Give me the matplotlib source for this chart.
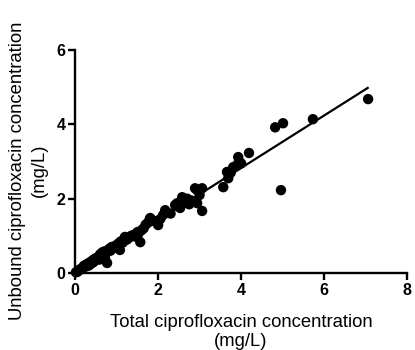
#!/usr/bin/env python3

import matplotlib
matplotlib.use('Agg')
import matplotlib.pyplot as plt

# total vs unbound ciprofloxacin (mg/L)
total = [0.02, 0.05, 0.08, 0.10, 0.12, 0.15, 0.18, 0.20, 0.22, 0.25, 0.28, 0.30,
         0.33, 0.35, 0.38, 0.40, 0.43, 0.45, 0.48, 0.50, 0.55, 0.58, 0.60, 0.62,
         0.65, 0.68, 0.70, 0.72, 0.75, 0.77, 0.80, 0.82, 0.85, 0.88, 0.90, 0.95,
         1.00, 1.02, 1.05, 1.08, 1.10, 1.15, 1.20, 1.25, 1.30, 1.35, 1.40, 1.45,
         1.50, 1.52, 1.57, 1.60, 1.65, 1.70, 1.75, 1.80, 1.81, 1.85, 1.90, 2.00,
         2.05, 2.12, 2.17, 2.17, 2.30, 2.41, 2.46, 2.53, 2.58, 2.65, 2.70, 2.75,
         2.80, 2.89, 2.94, 2.94, 3.00, 3.06, 3.06, 3.57, 3.66, 3.69, 3.75, 3.81,
         3.90, 3.93, 3.95, 4.00, 4.19, 4.82, 5.01, 5.73, 7.06, 4.96]
unbound = [0.02, 0.03, 0.06, 0.08, 0.10, 0.10, 0.14, 0.16, 0.20, 0.17, 0.22, 0.25,
           0.20, 0.28, 0.30, 0.26, 0.35, 0.30, 0.38, 0.40, 0.42, 0.36, 0.50, 0.45,
           0.55, 0.48, 0.58, 0.42, 0.55, 0.27, 0.60, 0.65, 0.60, 0.70, 0.66, 0.72,
           0.75, 0.68, 0.80, 0.62, 0.85, 0.82, 0.97, 0.90, 0.95, 1.00, 1.02, 0.98,
           1.10, 1.05, 0.83, 1.15, 1.20, 1.30, 1.35, 1.45, 1.48, 1.42, 1.40, 1.29,
           1.45, 1.56, 1.64, 1.69, 1.60, 1.83, 1.88, 1.75, 2.04, 1.90, 2.00, 1.85,
           1.95, 2.28, 2.23, 1.88, 2.10, 2.28, 1.67, 2.31, 2.72, 2.55, 2.70, 2.85,
           2.90, 3.12, 3.00, 2.95, 3.23, 3.92, 4.03, 4.14, 4.68, 2.23]

# regression line end points
fit_x = [0.0, 7.05]
fit_y = [0.0, 4.98]

plt.rcParams['font.family'] = ['Liberation Sans', 'DejaVu Sans']

fig = plt.figure(figsize=(4.15, 3.5), dpi=100)
ax = fig.add_axes([0.181, 0.22, 0.8, 0.637])

ax.scatter(total, unbound, s=56, color='black', edgecolors='none', zorder=3, clip_on=False)
ax.plot(fit_x, fit_y, color='black', lw=1.6, zorder=2)

ax.set_xlim(0, 8)
ax.set_ylim(0, 6)
ax.set_xticks([0, 2, 4, 6, 8])
ax.set_yticks([0, 2, 4, 6])

for s in ('top', 'right'):
    ax.spines[s].set_visible(False)
for s in ('left', 'bottom'):
    ax.spines[s].set_linewidth(1.7)

ax.tick_params(direction='out', length=5, width=1.7, labelsize=11.5, pad=2)
for lab in ax.get_xticklabels() + ax.get_yticklabels():
    lab.set_fontweight('bold')

ax.set_xlabel('Total ciprofloxacin concentration\n(mg/L)', fontsize=13.3, labelpad=12, linespacing=1.15)
ax.set_ylabel('Unbound ciprofloxacin concentration\n(mg/L)', fontsize=13.3, linespacing=1.35)
ax.yaxis.set_label_coords(-0.082, 0.46)

fig.savefig('out.png', dpi=100)
